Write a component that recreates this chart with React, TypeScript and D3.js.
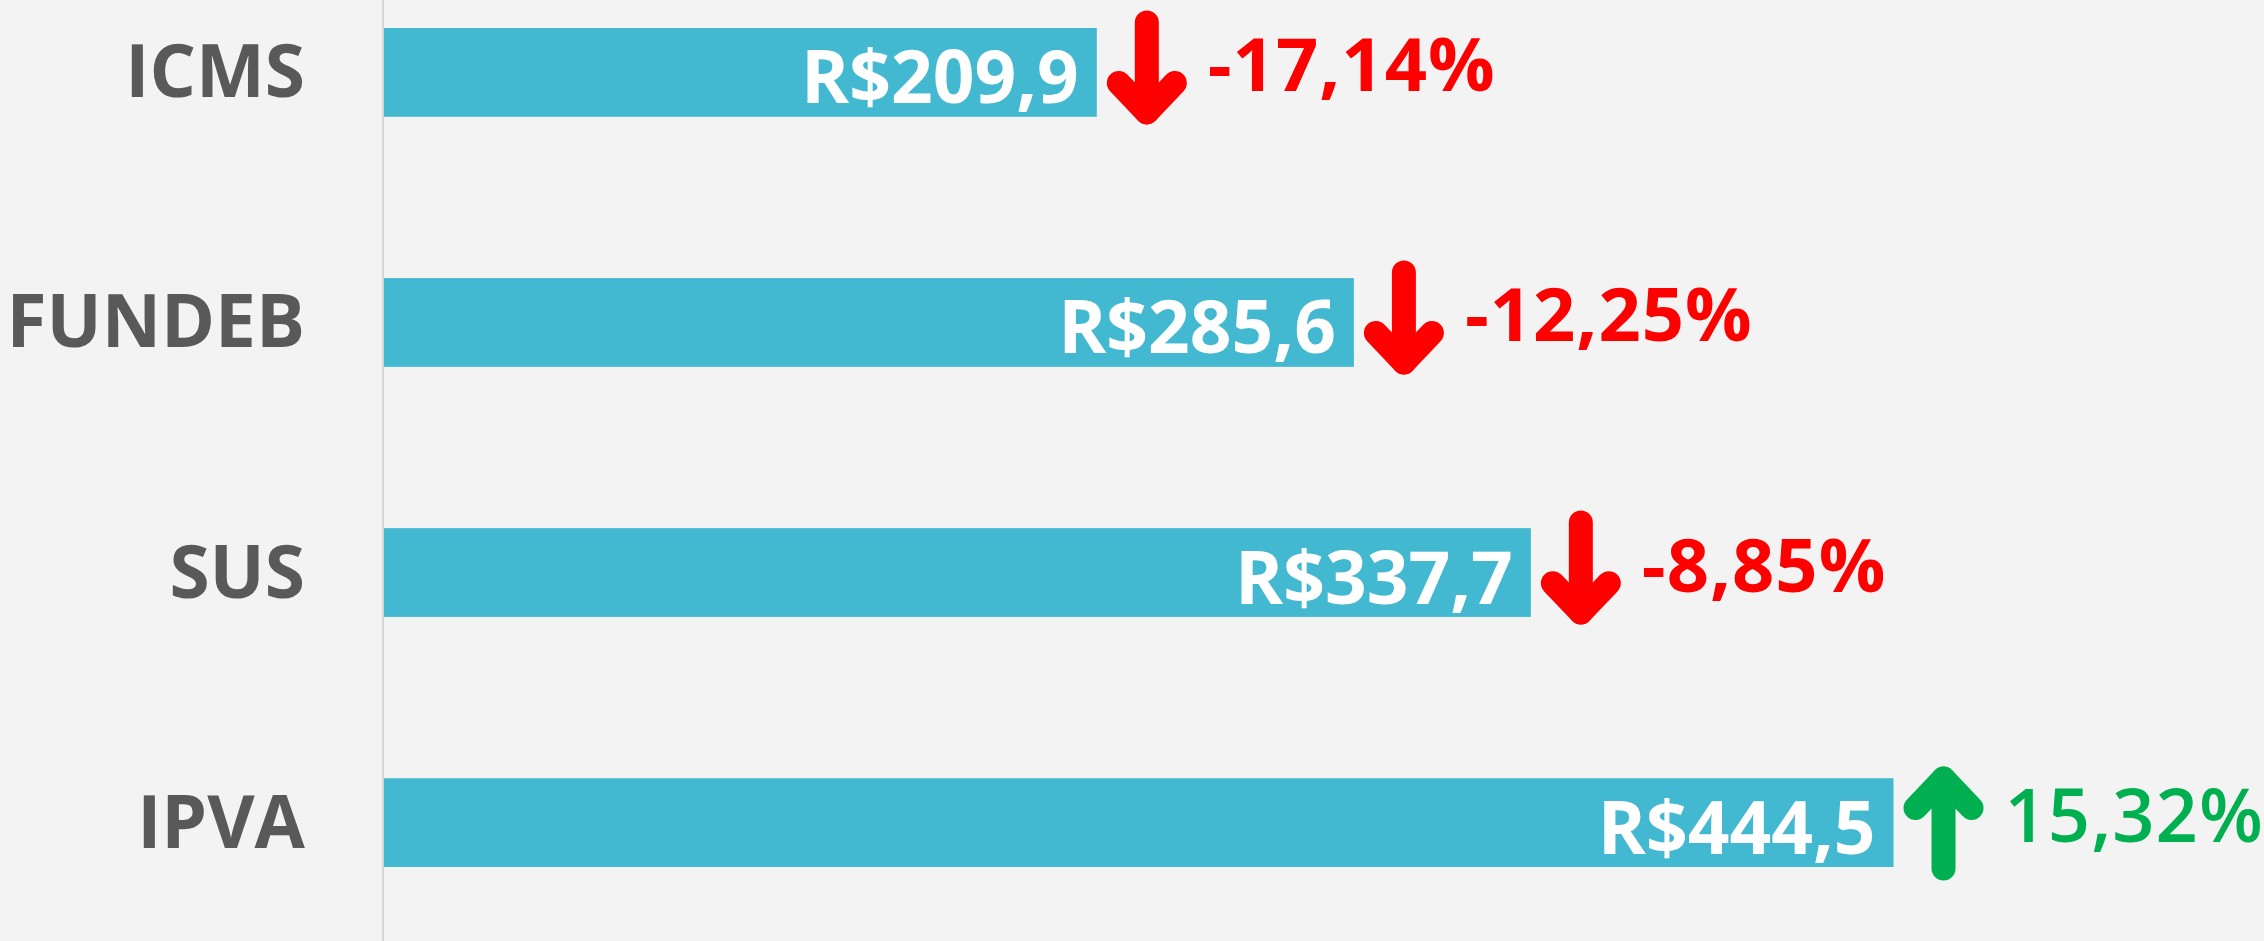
import * as d3 from 'd3';

// Chart data
const categories = ['ICMS', 'FUNDEB', 'SUS', 'IPVA'];
const values = [209.9, 285.6, 337.7, 444.5];      // R$ (bar values)
const changes = [-17.14, -12.25, -8.85, 15.32];   // % variation

const width = 2264, height = 941;
const font = '"Open Sans", "DejaVu Sans", sans-serif';

const fmtValue = (v: number) => `R$${v.toFixed(1).replace('.', ',')}`;
const fmtChange = (v: number) => `${v.toFixed(2).replace('.', ',')}%`;

// Rounded arrow (down or up) centred at cx, cy
const Arrow = ({ cx, cy, up, color }: { cx: number; cy: number; up: boolean; color: string }) => {
  const h = 114, sw = 24, arm = 28;
  const top = cy - h / 2 + sw / 2;
  const bottom = cy + h / 2 - sw / 2;
  const tip = up ? top : bottom;
  const tail = up ? bottom : top;
  const dir = up ? 1 : -1;
  const shaft = d3.line()([[cx, tail], [cx, tip]]) ?? '';
  const head = d3.line()([[cx - arm, tip + dir * arm * 1.05], [cx, tip], [cx + arm, tip + dir * arm * 1.05]]) ?? '';
  return (
    <g fill="none" stroke={color} strokeWidth={sw} strokeLinecap="round" strokeLinejoin="round">
      <path d={shaft} />
      <path d={head} />
    </g>
  );
};

export default function App() {
  const x = d3.scaleLinear().domain([0, 500]).range([384, 2082]);
  const y = d3.scaleBand<string>()
    .domain(categories)
    .range([28, 867])
    .paddingInner(0.645)
    .paddingOuter(0);
  const bw = y.bandwidth();

  return (
    <>
      <style>{'body{margin:0}'}</style>
      <svg width={width} height={height} style={{ display: 'block', fontFamily: font }}>
        <rect width={width} height={height} fill="#f3f3f3" />
        {/* category axis line */}
        <line x1={383} x2={383} y1={0} y2={height} stroke="#d6d6d6" strokeWidth={2} />

        {categories.map((c, i) => {
          const y0 = y(c) ?? 0;
          const cy = y0 + bw / 2;
          const end = x(values[i]);
          const up = changes[i] > 0;
          const color = up ? '#00b050' : '#ff0000';
          return (
            <g key={c}>
              <text x={305} y={cy + 25} textAnchor="end" fontSize={73} fontWeight={700} fill="#595959">
                {c}
              </text>
              <rect x={x(0)} y={y0} width={end - x(0)} height={bw} fill="#43b8d1" />
              <text x={end - 18} y={cy + 31} textAnchor="end" fontSize={73} fontWeight={700} fill="#ffffff">
                {fmtValue(values[i])}
              </text>
              <Arrow cx={end + 50} cy={up ? cy + 1 : cy - 5} up={up} color={color} />
              <text
                x={end + 111}
                y={cy + 19}
                fontSize={74}
                fontWeight={up ? 600 : 700}
                letterSpacing={1}
                fill={color}
              >
                {fmtChange(changes[i])}
              </text>
            </g>
          );
        })}
      </svg>
    </>
  );
}
